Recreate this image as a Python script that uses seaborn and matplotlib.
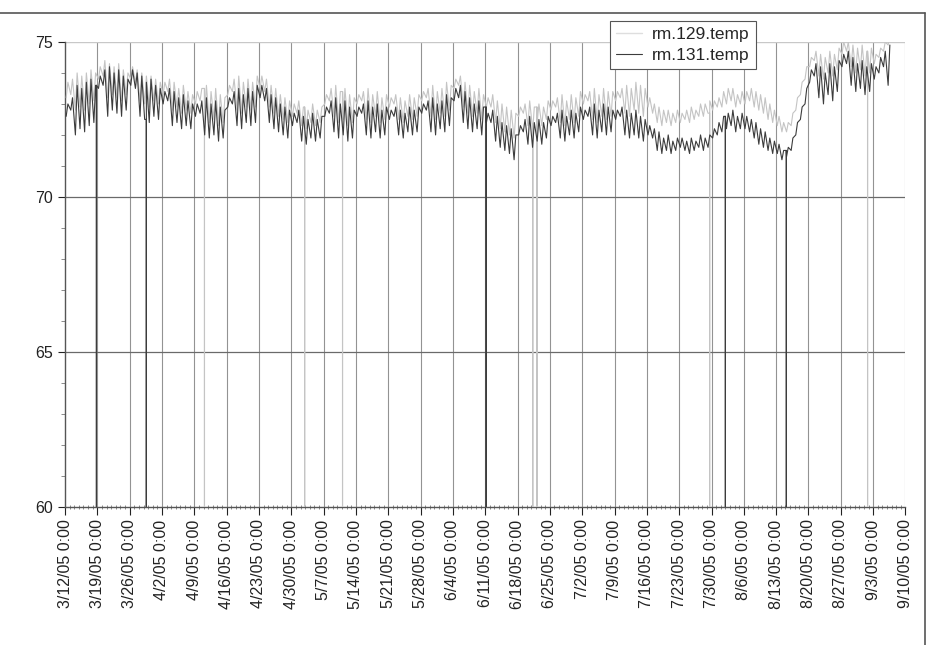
import numpy as np
import pandas as pd
import matplotlib
matplotlib.use("Agg")
import matplotlib.pyplot as plt
import matplotlib.dates as mdates
from matplotlib.lines import Line2D
import seaborn as sns

# ---- data (one row per week, Sat..Fri) ----
start = pd.Timestamp("2005-03-12")

rm131_hi = [
    73.0, 73.2, 73.6, 73.5, 73.7, 73.8, 73.6,
    73.9, 74.1, 74.2, 74.0, 74.1, 73.9, 73.8,
    74.1, 74.0, 73.9, 73.7, 73.8, 73.6, 73.5,
    73.4, 73.5, 73.4, 73.2, 73.3, 73.1, 73.0,
    73.0, 73.1, 73.2, 73.0, 73.1, 72.9, 72.8,
    73.2, 73.4, 73.5, 73.3, 73.5, 73.4, 73.6,
    73.6, 73.5, 73.3, 73.2, 73.0, 72.9, 72.8,
    72.7, 72.8, 72.6, 72.5, 72.7, 72.5, 72.6,
    72.9, 73.1, 73.2, 73.0, 73.1, 72.9, 72.8,
    72.9, 73.0, 73.1, 72.9, 73.0, 72.8, 72.9,
    72.8, 72.9, 72.8, 72.7, 72.9, 72.8, 72.9,
    73.0, 73.1, 73.2, 73.0, 73.1, 73.3, 73.2,
    73.5, 73.6, 73.4, 73.2, 73.0, 73.1, 72.9,
    72.7, 72.8, 72.6, 72.4, 72.3, 72.2, 72.0,
    72.3, 72.5, 72.6, 72.4, 72.5, 72.4, 72.6,
    72.6, 72.7, 72.8, 72.6, 72.8, 72.7, 72.9,
    72.8, 72.9, 73.0, 72.8, 73.0, 72.9, 72.8,
    72.8, 72.9, 72.8, 72.7, 72.8, 72.6, 72.5,
    72.3, 72.2, 72.1, 71.9, 72.0, 71.8, 71.9,
    71.9, 71.8, 71.9, 71.8, 72.0, 71.9, 72.0,
    72.2, 72.4, 72.6, 72.7, 72.8, 72.6, 72.7,
    72.6, 72.5, 72.4, 72.2, 72.1, 71.9, 71.8,
    71.7, 71.5, 71.6, 71.9, 72.4, 72.9, 73.5,
    74.1, 74.3, 74.2, 74.0, 74.3, 74.2, 74.4,
    74.6, 74.7, 74.5, 74.3, 74.4, 74.2, 74.3,
    74.2, 74.5, 74.7, 74.9,
]
rm131_lo = [
    72.6, 72.8, 72.0, 72.2, 72.1, 72.3, 72.4,
    73.5, 73.6, 72.6, 72.8, 72.7, 72.6, 72.8,
    73.6, 73.5, 72.6, 72.5, 72.4, 72.6, 72.5,
    73.0, 73.1, 72.3, 72.4, 72.2, 72.3, 72.2,
    72.6, 72.7, 72.0, 71.9, 72.0, 71.8, 71.9,
    72.9, 73.0, 72.3, 72.2, 72.4, 72.3, 72.4,
    73.2, 73.1, 72.4, 72.2, 72.1, 72.0, 71.9,
    72.3, 72.4, 71.8, 71.7, 71.9, 71.8, 71.9,
    72.6, 72.7, 72.1, 71.9, 72.0, 71.8, 71.9,
    72.6, 72.7, 72.0, 71.9, 72.1, 71.9, 72.0,
    72.5, 72.6, 72.0, 71.9, 72.1, 72.0, 72.1,
    72.7, 72.8, 72.1, 72.0, 72.2, 72.1, 72.3,
    73.1, 73.2, 72.4, 72.2, 72.1, 72.2, 72.0,
    72.4, 72.4, 71.8, 71.6, 71.5, 71.4, 71.2,
    72.0, 72.1, 71.7, 71.6, 71.8, 71.7, 71.9,
    72.3, 72.4, 71.9, 71.8, 72.0, 71.9, 72.1,
    72.5, 72.6, 72.0, 71.9, 72.1, 72.0, 72.1,
    72.5, 72.6, 72.0, 71.9, 72.0, 71.9, 71.8,
    72.0, 71.9, 71.5, 71.4, 71.5, 71.4, 71.5,
    71.6, 71.5, 71.4, 71.5, 71.6, 71.5, 71.6,
    71.9, 72.0, 72.1, 72.2, 72.3, 72.1, 72.2,
    72.2, 72.1, 71.9, 71.7, 71.6, 71.5, 71.4,
    71.4, 71.2, 71.3, 71.5, 72.0, 72.5, 73.0,
    73.7, 73.9, 73.2, 73.0, 73.3, 73.1, 73.4,
    74.2, 74.3, 73.6, 73.4, 73.5, 73.3, 73.4,
    73.8, 74.0, 74.2, 73.6,
]
rm129_hi = [
    73.7, 73.8, 74.0, 73.9, 74.0, 74.1, 74.0,
    74.2, 74.4, 74.3, 74.2, 74.3, 74.1, 74.0,
    74.2, 74.1, 74.0, 73.9, 73.9, 73.8, 73.7,
    73.7, 73.8, 73.7, 73.5, 73.6, 73.4, 73.3,
    73.4, 73.5, 73.6, 73.4, 73.5, 73.3, 73.2,
    73.6, 73.8, 73.9, 73.7, 73.8, 73.7, 73.9,
    73.9, 73.8, 73.6, 73.5, 73.3, 73.2, 73.1,
    73.0, 73.1, 72.9, 72.8, 73.0, 72.8, 72.9,
    73.3, 73.5, 73.6, 73.4, 73.5, 73.3, 73.2,
    73.3, 73.4, 73.5, 73.3, 73.4, 73.2, 73.3,
    73.2, 73.3, 73.2, 73.1, 73.3, 73.2, 73.3,
    73.4, 73.5, 73.6, 73.4, 73.5, 73.7, 73.6,
    73.8, 73.9, 73.7, 73.6, 73.4, 73.5, 73.3,
    73.2, 73.3, 73.1, 73.0, 72.9, 72.8, 72.7,
    72.9, 73.0, 73.1, 72.9, 73.0, 72.9, 73.1,
    73.1, 73.2, 73.3, 73.1, 73.3, 73.2, 73.4,
    73.3, 73.4, 73.5, 73.3, 73.5, 73.4, 73.4,
    73.4, 73.5, 73.6, 73.5, 73.7, 73.6, 73.5,
    73.2, 73.0, 72.9, 72.8, 72.8, 72.7, 72.8,
    72.7, 72.8, 72.9, 72.8, 73.0, 73.0, 73.1,
    73.1, 73.2, 73.4, 73.5, 73.5, 73.3, 73.4,
    73.4, 73.5, 73.4, 73.3, 73.2, 73.0, 72.8,
    72.6, 72.4, 72.4, 72.7, 73.2, 73.7, 74.2,
    74.5, 74.7, 74.6, 74.5, 74.7, 74.6, 74.8,
    75.0, 75.0, 74.9, 74.8, 74.9, 74.7, 74.8,
    74.6, 74.8, 75.0, 75.2,
]
rm129_lo = [
    73.2, 73.3, 72.8, 72.9, 72.8, 73.0, 73.1,
    73.8, 73.9, 73.2, 73.3, 73.2, 73.1, 73.3,
    73.8, 73.7, 73.1, 73.0, 72.9, 73.1, 73.0,
    73.3, 73.4, 72.8, 72.9, 72.7, 72.8, 72.7,
    73.0, 73.1, 72.5, 72.4, 72.5, 72.3, 72.4,
    73.3, 73.4, 72.8, 72.7, 72.9, 72.8, 72.9,
    73.5, 73.4, 72.9, 72.7, 72.6, 72.5, 72.4,
    72.6, 72.7, 72.3, 72.2, 72.4, 72.3, 72.4,
    73.0, 73.1, 72.6, 72.4, 72.5, 72.3, 72.4,
    73.0, 73.1, 72.5, 72.4, 72.6, 72.4, 72.5,
    72.9, 73.0, 72.5, 72.4, 72.6, 72.5, 72.6,
    73.1, 73.2, 72.6, 72.5, 72.7, 72.6, 72.8,
    73.5, 73.6, 72.9, 72.7, 72.6, 72.7, 72.5,
    72.9, 72.9, 72.4, 72.2, 72.1, 72.0, 71.9,
    72.6, 72.7, 72.3, 72.2, 72.4, 72.3, 72.5,
    72.8, 72.9, 72.4, 72.3, 72.5, 72.4, 72.6,
    73.0, 73.1, 72.5, 72.4, 72.6, 72.5, 72.6,
    73.1, 73.2, 72.7, 72.6, 72.8, 72.7, 72.6,
    72.9, 72.7, 72.4, 72.3, 72.4, 72.3, 72.4,
    72.4, 72.5, 72.4, 72.5, 72.6, 72.6, 72.7,
    72.8, 72.9, 72.9, 73.0, 73.1, 72.9, 73.0,
    73.0, 73.1, 72.9, 72.8, 72.7, 72.5, 72.4,
    72.3, 72.1, 72.1, 72.3, 72.8, 73.3, 73.8,
    74.2, 74.4, 73.9, 73.8, 74.0, 73.9, 74.1,
    74.6, 74.7, 74.2, 74.0, 74.1, 73.9, 74.0,
    74.3, 74.5, 74.7, 74.9,
]

# sensor dropouts (logged as 0), days after 3/12/05
rm131_drop = [6.8, 17.6, 91.2, 143.0, 156.2]
rm129_drop = [30.2, 51.9, 60.1, 101.3, 102.2, 139.6, 173.8]

week_ticks = pd.date_range("2005-03-12", "2005-09-10", freq="7D")
tick_labels = [f"{d.month}/{d.day}/05 0:00" for d in week_ticks]


def build(name, hi, lo, drops):
    t, v = [], []
    for i, (h, l) in enumerate(zip(hi, lo)):
        t += [i + 0.25, i + 0.625]
        v += [l, h]
    df = pd.DataFrame({"day": t, "temp": v})
    # a dropout is a single bad reading: hold the last good value either side
    rows = []
    for d in drops:
        held = df.loc[df["day"] <= d, "temp"].iloc[-1]
        rows += [(d - 0.01, held), (d, 0.0), (d + 0.01, held)]
    df = pd.concat([df, pd.DataFrame(rows, columns=["day", "temp"])])
    df = df.sort_values("day")
    df["time"] = start + pd.to_timedelta(df["day"], unit="D")
    df["series"] = name
    return df


df = pd.concat([build("rm.129.temp", rm129_hi, rm129_lo, rm129_drop),
                build("rm.131.temp", rm131_hi, rm131_lo, rm131_drop)])

sns.set_style("white")
plt.rcParams["font.family"] = ["Liberation Sans", "DejaVu Sans"]

fig = plt.figure(figsize=(9.3, 6.45), dpi=100)
ax = fig.add_axes([0.0699, 0.214, 0.9037, 0.721])

# weekly vertical grid and horizontal grid
for d in week_ticks[1:]:
    ax.axvline(d, color="#939393", lw=0.8, zorder=1)
for y in [65, 70]:
    ax.axhline(y, color="#6a6a6a", lw=0.9, zorder=1)
ax.axhline(75, color="#c8c8c8", lw=1.0, zorder=1)

palette = {"rm.129.temp": "#c4c4c4", "rm.131.temp": "#3c3c3c"}
sns.lineplot(data=df, x="time", y="temp", hue="series", palette=palette,
             estimator=None, sort=True, lw=0.8, ax=ax, legend=False, zorder=3)

ax.set_ylim(60, 75)
ax.set_xlim(week_ticks[0], week_ticks[-1])
ax.set_yticks([60, 65, 70, 75])
ax.set_yticks(np.arange(60, 76, 1), minor=True)
ax.set_xticks(week_ticks)
ax.set_xticklabels(tick_labels, rotation=90, fontsize=11.5, va="top")
ax.xaxis.set_minor_locator(mdates.DayLocator())
ax.tick_params(axis="y", labelsize=11.5, length=5, width=0.8, direction="out",
               left=True, colors="#222222")
ax.tick_params(axis="y", which="minor", length=3, left=True, color="#777777")
ax.tick_params(axis="x", length=6, width=0.8, direction="out", bottom=True,
               colors="#222222", pad=3)
ax.tick_params(axis="x", which="minor", length=3, direction="inout",
               bottom=True, color="#777777")
ax.set_xlabel("")
ax.set_ylabel("")

for s in ["top", "right"]:
    ax.spines[s].set_visible(False)
for s in ["left", "bottom"]:
    ax.spines[s].set_color("#555555")
    ax.spines[s].set_linewidth(1.0)

handles = [Line2D([], [], color="#dedede", lw=1),
           Line2D([], [], color=palette["rm.131.temp"], lw=0.8)]
leg = ax.legend(handles, ["rm.129.temp", "rm.131.temp"], loc="upper left",
                bbox_to_anchor=(0.648, 1.045), fontsize=12.5, frameon=True,
                fancybox=False, framealpha=1, edgecolor="#555555",
                handlelength=1.5, borderpad=0.35, labelspacing=0.3,
                handletextpad=0.6, borderaxespad=0)
leg.get_frame().set_linewidth(0.8)
leg.set_zorder(5)

# outer chart border (top and right)
fig.add_artist(Line2D([0, 0.995], [0.98, 0.98], color="#555555", lw=1.2))
fig.add_artist(Line2D([0.995, 0.995], [0.0, 0.98], color="#555555", lw=1.2))

fig.savefig("out.png", dpi=100)
